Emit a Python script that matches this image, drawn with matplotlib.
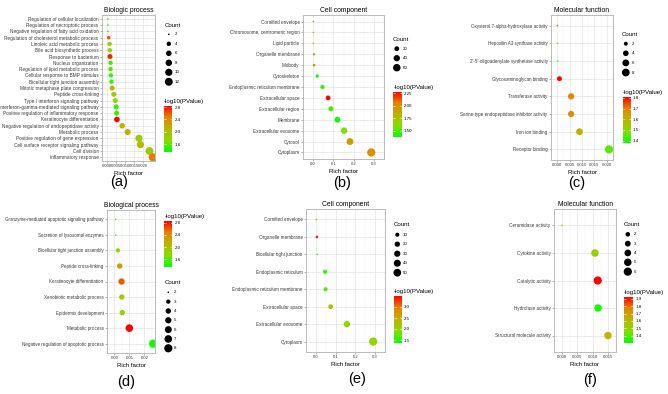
import numpy as np
import matplotlib
matplotlib.use('Agg')
import matplotlib.pyplot as plt
from matplotlib.colors import LinearSegmentedColormap, Normalize
from matplotlib.cm import ScalarMappable

plt.rcParams['font.family'] = ['Liberation Sans', 'DejaVu Sans']

# ---------------- data (top to bottom) ----------------
a_terms = ['Regulation of cellular localization', 'Regulation of necroptotic process',
           'Negative regulation of fatty acid oxidation', 'Regulation of cholesterol metabolic process',
           'Linoleic acid metabolic process', 'Bile acid biosynthetic process', 'Response to bacterium',
           'Nucleus organization', 'Regulation of lipid metabolic process',
           'Cellular response to BMP stimulus', 'Bicellular tight junction assembly',
           'Mitotic metaphase plate congression', 'Peptide cross-linking',
           'Type I interferon signaling pathway', 'Interferon-gamma-mediated signaling pathway',
           'Positive regulation of inflammatory response', 'Keratinocyte differentiation',
           'Negative regulation of endopeptidase activity', 'Metabolic process',
           'Positive regulation of gene expression', 'Cell surface receptor signaling pathway',
           'Cell division', 'Inflammatory response']
a_rich = [0.0008, 0.0008, 0.0008, 0.0012, 0.0017, 0.0018, 0.0019, 0.0022, 0.0022, 0.0024, 0.0027,
          0.0031, 0.0040, 0.0048, 0.0053, 0.0055, 0.0057, 0.0086, 0.0116, 0.0178, 0.0186, 0.0236, 0.0254]
a_count = [2, 2, 2, 3, 4, 4, 5, 4, 4, 4, 4, 5, 5, 5, 5, 5, 6, 6, 7, 10, 10, 12, 13]
a_logp = [1.50, 1.50, 1.42, 2.60, 1.90, 1.80, 2.75, 1.55, 1.60, 1.50, 1.50, 2.10, 1.90, 1.75, 1.50,
          1.50, 2.85, 2.10, 2.15, 1.85, 2.05, 1.90, 2.50]

b_terms = ['Cornified envelope', 'Chromosome, centromeric region', 'Lipid particle', 'Organelle membrane',
           'Midbody', 'Cytoskeleton', 'Endoplasmic reticulum membrane', 'Extracellular space',
           'Extracellular region', 'Membrane', 'Extracellular exosome', 'Cytosol', 'Cytoplasm']
b_rich = [0.001, 0.001, 0.001, 0.004, 0.005, 0.020, 0.046, 0.074, 0.088, 0.120, 0.153, 0.182, 0.287]
b_count = [3, 3, 3, 4, 5, 8, 14, 20, 24, 33, 42, 50, 75]
b_logp = [2.00, 1.80, 1.55, 2.00, 2.00, 1.40, 1.45, 2.28, 1.50, 1.40, 1.60, 1.95, 2.00]

c_terms = ['Oxysterol 7-alpha-hydroxylase activity', 'Hepoxilin A3 synthase activity',
           "2'-5'-oligoadenylate synthetase activity", 'Glycosaminoglycan binding',
           'Transferase activity', 'Serine-type endopeptidase inhibitor activity',
           'Iron ion binding', 'Receptor binding']
c_rich = [0.0001, 0.0001, 0.0002, 0.0009, 0.0056, 0.0056, 0.0090, 0.0209]
c_count = [1, 1, 1, 3, 5, 5, 6, 9]
c_logp = [1.72, 1.50, 1.40, 1.81, 1.70, 1.68, 1.60, 1.45]

d_terms = ['Granzyme-mediated apoptotic signaling pathway', 'Secretion of lysosomal enzymes',
           'Bicellular tight junction assembly', 'Peptide cross-linking', 'Keratinocyte differentiation',
           'Xenobiotic metabolic process', 'Epidermis development', 'Metabolic process',
           'Negative regulation of apoptotic process']
d_rich = [0.0008, 0.0008, 0.0023, 0.0035, 0.0047, 0.0049, 0.0052, 0.0099, 0.0258]
d_count = [2, 2, 3, 4, 5, 4, 4, 7, 8]
d_logp = [1.60, 1.50, 1.75, 2.30, 2.60, 1.85, 1.80, 2.85, 1.40]

e_terms = ['Cornified envelope', 'Organelle membrane', 'Bicellular tight junction', 'Endoplasmic reticulum',
           'Endoplasmic reticulum membrane', 'Extracellular space', 'Extracellular exosome', 'Cytoplasm']
e_rich = [0.003, 0.005, 0.007, 0.047, 0.049, 0.075, 0.157, 0.290]
e_count = [2, 3, 2, 10, 10, 15, 32, 58]
e_logp = [2.20, 3.45, 1.50, 1.50, 1.70, 2.20, 2.00, 2.00]

f_terms = ['Ceramidase activity', 'Cytokine activity', 'Catalytic activity', 'Hydrolase activity',
           'Structural molecule activity']
f_rich = [0.0001, 0.0107, 0.0116, 0.0117, 0.0149]
f_count = [1, 5, 6, 5, 5]
f_logp = [1.60, 1.50, 1.93, 1.33, 1.60]

# legend breaks / colour limits
a_breaks, a_lim, a_cticks = [2, 4, 6, 8, 10, 12], (1.36, 2.85), [1.6, 2.0, 2.4, 2.8]
b_breaks, b_lim, b_cticks = [20, 40, 60], (1.37, 2.28), [1.50, 1.75, 2.00, 2.25]
c_breaks, c_lim, c_cticks = [2, 4, 6, 8], (1.376, 1.81), [1.4, 1.5, 1.6, 1.7, 1.8]
d_breaks, d_lim, d_cticks = [2, 3, 4, 5, 6, 7, 8], (1.36, 2.855), [1.6, 2.0, 2.4, 2.8]
e_breaks, e_lim, e_cticks = [10, 20, 30, 40, 50], (1.35, 3.5), [1.5, 2.0, 2.5, 3.0]
f_breaks, f_lim, f_cticks = [2, 3, 4, 5, 6], (1.305, 1.93), [1.4, 1.5, 1.6, 1.7, 1.8, 1.9]

# ---------------- style ----------------
W, H = 668, 394
cmap = LinearSegmentedColormap.from_list(
    'gr', [(0, '#00FF00'), (0.25, '#86DC00'), (0.5, '#BBB400'), (0.75, '#E48300'), (1, '#FF0000')])
TXT = '#3A3A3A'


def rect(l, t, r, b):
    return [l / W, 1 - b / H, (r - l) / W, (b - t) / H]


def diam(v, lo, hi, dmin=1.6, dmax=8.2):
    v = np.asarray(v, dtype=float)
    return dmin + (dmax - dmin) * np.sqrt((v - lo) / (hi - lo))


fig = plt.figure(figsize=(W / 100, H / 100), dpi=100)
ov = fig.add_axes([0, 0, 1, 1], zorder=5)
ov.set_xlim(0, W)
ov.set_ylim(H, 0)
ov.axis('off')

panels = [
    dict(terms=a_terms, rich=a_rich, count=a_count, logp=a_logp, breaks=a_breaks, lim=a_lim,
         cticks=a_cticks, cfmt='%.1f', title='Biologic process', box=(102, 15, 155, 161),
         xticks=[0, 0.005, 0.01, 0.015, 0.02], xfmt='%.3f', lab='(a)', labxy=(119, 182), fs=3.4,
         cnt=dict(x=165, ty=25, y0=34.3, dy=9.5), cbar=(164, 105.5, 172.5, 151.7)),
    dict(terms=b_terms, rich=b_rich, count=b_count, logp=b_logp, breaks=b_breaks, lim=b_lim,
         cticks=b_cticks, cfmt='%.2f', title='Cell component', box=(303, 15, 384, 159),
         xticks=[0, 0.1, 0.2, 0.3], xfmt='%.1f', lab='(b)', labxy=(342, 183), fs=3.3,
         cnt=dict(x=393, ty=39, y0=48.7, dy=9.5), cbar=(393.3, 91.7, 401.7, 137.3)),
    dict(terms=c_terms, rich=c_rich, count=c_count, logp=c_logp, breaks=c_breaks, lim=c_lim,
         cticks=c_cticks, cfmt='%.1f', title='Molecular function', box=(551, 15, 613, 160),
         xticks=[0, 0.005, 0.01, 0.015, 0.02], xfmt='%.3f', lab='(c)', labxy=(577, 183), fs=3.25,
         cnt=dict(x=622, ty=34, y0=43.7, dy=9.6), cbar=(622.7, 96.7, 630.7, 143.3)),
    dict(terms=d_terms, rich=d_rich, count=d_count, logp=d_logp, breaks=d_breaks, lim=d_lim,
         cticks=d_cticks, cfmt='%.1f', title='Biological process', box=(107, 210, 155, 353),
         xticks=[0, 0.01, 0.02], xfmt='%.2f', lab='(d)', labxy=(126, 382), fs=3.25,
         cnt=dict(x=164.5, ty=282.3, y0=292.3, dy=9.33), cbar=(164.3, 221, 172.3, 266.7)),
    dict(terms=e_terms, rich=e_rich, count=e_count, logp=e_logp, breaks=e_breaks, lim=e_lim,
         cticks=e_cticks, cfmt='%.1f', title='Cell component', box=(306, 209, 385, 352),
         xticks=[0, 0.1, 0.2, 0.3], xfmt='%.1f', lab='(e)', labxy=(357, 379), fs=3.3,
         cnt=dict(x=393.5, ty=224.7, y0=234.7, dy=9.5), cbar=(394, 296, 402, 343.3)),
    dict(terms=f_terms, rich=f_rich, count=f_count, logp=f_logp, breaks=f_breaks, lim=f_lim,
         cticks=f_cticks, cfmt='%.1f', title='Molecular function', box=(554, 209, 616, 352),
         xticks=[0, 0.005, 0.01, 0.015], xfmt='%.3f', lab='(f)', labxy=(590, 380), fs=3.3,
         cnt=dict(x=624, ty=224.7, y0=234.3, dy=9.33), cbar=(624, 296.7, 633.3, 342.7)),
]

for p in panels:
    ax = fig.add_axes(rect(*p['box']))
    n = len(p['terms'])
    y = np.arange(n)[::-1]
    rich = np.asarray(p['rich'])
    cmin, cmax = min(p['count']), max(p['count'])
    norm = Normalize(*p['lim'])
    d = diam(p['count'], cmin, cmax) * 0.72
    ax.scatter(rich, y, s=d ** 2, c=p['logp'], cmap=cmap, norm=norm, linewidths=0, zorder=3)

    span = rich.max() - rich.min()
    ax.set_xlim(rich.min() - 0.05 * span, rich.max() + 0.05 * span)
    ax.set_ylim(-0.6, n - 0.4)
    xt = p['xticks']
    ax.set_xticks(xt)
    ax.set_xticklabels([p['xfmt'] % v for v in xt])
    step = xt[1] - xt[0]
    ax.set_xticks(np.arange(xt[0] - step / 2, xt[-1] + step, step), minor=True)
    ax.set_yticks(y)
    ax.set_yticklabels(p['terms'])
    ax.grid(True, which='major', color='#E3E3E3', linewidth=0.5, zorder=0)
    ax.grid(True, which='minor', axis='x', color='#F0F0F0', linewidth=0.3, zorder=0)
    ax.set_axisbelow(True)
    ax.tick_params(axis='both', which='major', labelsize=p['fs'], colors='#777777', labelcolor=TXT,
                   length=1.5, width=0.4, pad=1)
    ax.tick_params(axis='x', which='major', labelsize=3.05)
    ax.tick_params(axis='x', which='minor', length=0)
    for s in ax.spines.values():
        s.set_color('#B0B0B0')
        s.set_linewidth(0.6)
    ax.set_title(p['title'], fontsize=4.9, pad=2.5, color='black')
    ax.set_xlabel('Rich factor', fontsize=4.4, labelpad=1.5, color='black')
    fig.text(p['labxy'][0] / W, 1 - p['labxy'][1] / H, p['lab'], fontsize=10.5,
             ha='center', va='center')

    # size legend
    c = p['cnt']
    ov.text(c['x'], c['ty'], 'Count', fontsize=4.4, ha='left', va='center')
    ky = c['y0'] + c['dy'] * np.arange(len(p['breaks']))
    kd = diam(p['breaks'], cmin, cmax) * 0.72
    ov.scatter(np.full(len(ky), c['x'] + 3.8), ky, s=kd ** 2, c='black', linewidths=0)
    for yy, b in zip(ky, p['breaks']):
        ov.text(c['x'] + 9.5, yy, str(b), fontsize=3.2, ha='left', va='center', color='black')

    # colour bar
    l, t, r, b = p['cbar']
    cax = fig.add_axes(rect(l, t, r, b))
    cb = fig.colorbar(ScalarMappable(norm=norm, cmap=cmap), cax=cax)
    cb.outline.set_visible(False)
    cb.set_ticks(p['cticks'])
    cb.set_ticklabels([p['cfmt'] % v for v in p['cticks']])
    cax.tick_params(labelsize=3.2, length=0, pad=1.5)
    for v in p['cticks']:
        cax.plot([0, 0.2], [v, v], color='white', lw=0.4)
        cax.plot([0.8, 1], [v, v], color='white', lw=0.4)
    cax.set_xlim(0, 1)
    ov.text(l, t - 4.5, '-log10(PValue)', fontsize=4.4, ha='left', va='center')

fig.savefig('out.png', dpi=100)
